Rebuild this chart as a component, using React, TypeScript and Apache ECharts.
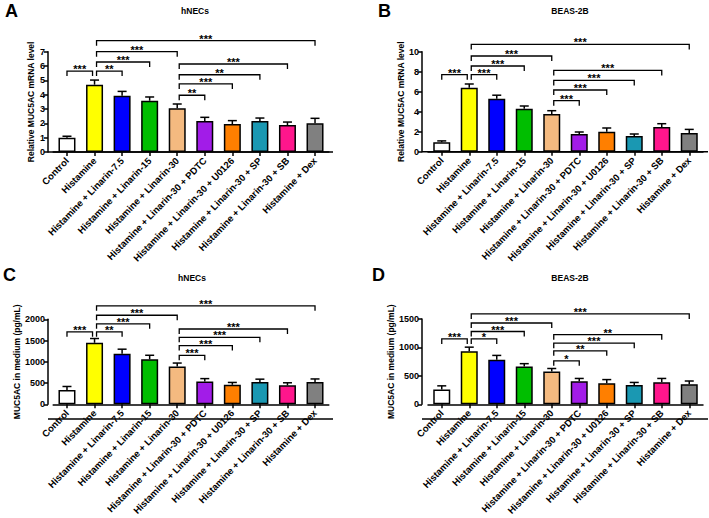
import React, { useEffect, useRef } from "react";
import * as echarts from "echarts";

// Treatment groups shared by all four panels
const categories = [
  "Control",
  "Histamine",
  "Histamine + Linarin-7.5",
  "Histamine + Linarin-15",
  "Histamine + Linarin-30",
  "Histamine + Linarin-30 + PDTC",
  "Histamine + Linarin-30 + U0126",
  "Histamine + Linarin-30 + SP",
  "Histamine + Linarin-30 + SB",
  "Histamine + Dex",
];

const barColors = [
  "#FFFFFF",
  "#FFFF00",
  "#0000FF",
  "#00BE00",
  "#F4BA80",
  "#A21CE8",
  "#FF7F00",
  "#1A98B2",
  "#FF168C",
  "#808080",
];

// A: MUC5AC mRNA, hNECs
const mrnaHnecMean = [1.0, 4.7, 3.93, 3.58, 3.05, 2.16, 1.95, 2.16, 1.88, 2.0];
const mrnaHnecSem = [0.1, 0.32, 0.3, 0.26, 0.3, 0.26, 0.24, 0.21, 0.21, 0.35];
// B: MUC5AC mRNA, BEAS-2B
const mrnaBeasMean = [0.95, 6.4, 5.3, 4.3, 3.77, 1.77, 2.0, 1.57, 2.47, 1.87];
const mrnaBeasSem = [0.13, 0.37, 0.35, 0.27, 0.33, 0.2, 0.37, 0.2, 0.33, 0.36];
// C: MUC5AC protein in medium (pg/mL), hNECs
const protHnecMean = [340, 1448, 1187, 1059, 891, 535, 460, 527, 447, 527];
const protHnecSem = [80, 100, 110, 95, 80, 70, 55, 65, 60, 70];
// D: MUC5AC protein in medium (pg/mL), BEAS-2B
const protBeasMean = [260, 935, 785, 665, 575, 405, 370, 340, 390, 355];
const protBeasSem = [65, 70, 75, 50, 55, 50, 65, 45, 65, 55];

// Significance brackets: [from group, to group, height in axis units, label]
type Bracket = [number, number, number, string];
const mrnaHnecSig: Bracket[] = [
  [0, 1, 5.65, "***"],
  [1, 2, 5.65, "**"],
  [1, 3, 6.28, "***"],
  [1, 4, 7.0, "***"],
  [1, 9, 7.77, "***"],
  [4, 5, 3.96, "**"],
  [4, 6, 4.75, "***"],
  [4, 7, 5.39, "**"],
  [4, 8, 6.14, "***"],
];
const mrnaBeasSig: Bracket[] = [
  [0, 1, 7.7, "***"],
  [1, 2, 7.7, "***"],
  [1, 3, 8.57, "***"],
  [1, 4, 9.57, "***"],
  [1, 9, 10.73, "***"],
  [4, 5, 5.1, "***"],
  [4, 6, 6.17, "***"],
  [4, 7, 7.13, "***"],
  [4, 8, 8.13, "***"],
];
const protHnecSig: Bracket[] = [
  [0, 1, 1705, "***"],
  [1, 2, 1705, "**"],
  [1, 3, 1893, "***"],
  [1, 4, 2095, "***"],
  [1, 9, 2317, "***"],
  [4, 5, 1153, "***"],
  [4, 6, 1382, "***"],
  [4, 7, 1577, "***"],
  [4, 8, 1772, "***"],
];
const protBeasSig: Bracket[] = [
  [0, 1, 1150, "***"],
  [1, 2, 1150, "*"],
  [1, 3, 1280, "***"],
  [1, 4, 1430, "***"],
  [1, 9, 1590, "***"],
  [4, 5, 765, "*"],
  [4, 6, 940, "**"],
  [4, 7, 1075, "***"],
  [4, 8, 1225, "**"],
];

const FONT = "Arial, 'Liberation Sans', Helvetica, sans-serif";

interface Panel {
  letter: string;
  title: string;
  yName: string;
  mean: number[];
  sem: number[];
  sig: Bracket[];
  yMax: number;
  yStep: number;
  left: number;
  top: number;
  width: number;
  height: number;
  axisX: number;
  axisEnd: number;
  nameGap: number;
  titleX: number;
  titleY: number;
  letterX: number;
  letterY: number;
}

const panels: Panel[] = [
  {
    letter: "A", title: "hNECs", yName: "Relative MUC5AC mRNA level",
    mean: mrnaHnecMean, sem: mrnaHnecSem, sig: mrnaHnecSig, yMax: 7, yStep: 1,
    left: 53.2, top: 51.7, width: 275.6, height: 100.3, axisX: 48, axisEnd: 333,
    nameGap: 13, titleX: 195, titleY: 11, letterX: 5, letterY: 11,
  },
  {
    letter: "B", title: "BEAS-2B", yName: "Relative MUC5AC mRNA level",
    mean: mrnaBeasMean, sem: mrnaBeasSem, sig: mrnaBeasSig, yMax: 10, yStep: 2,
    left: 428, top: 51.7, width: 275, height: 100, axisX: 422, axisEnd: 708,
    nameGap: 15, titleX: 570, titleY: 11, letterX: 378, letterY: 11,
  },
  {
    letter: "C", title: "hNECs", yName: "MUC5AC in medium (pg/mL)",
    mean: protHnecMean, sem: protHnecSem, sig: protHnecSig, yMax: 2000, yStep: 500,
    left: 53.2, top: 319.3, width: 275.6, height: 99.7, axisX: 48, axisEnd: 333,
    nameGap: 26, titleX: 192, titleY: 278, letterX: 3, letterY: 275,
  },
  {
    letter: "D", title: "BEAS-2B", yName: "MUC5AC in medium (pg/mL)",
    mean: protBeasMean, sem: protBeasSem, sig: protBeasSig, yMax: 1500, yStep: 500,
    left: 428, top: 319, width: 275, height: 100, axisX: 422, axisEnd: 708,
    nameGap: 26, titleX: 570, titleY: 278, letterX: 372, letterY: 275,
  },
];

function buildOption() {
  const grid: any[] = [];
  const xAxis: any[] = [];
  const yAxis: any[] = [];
  const series: any[] = [];
  const graphic: any[] = [];

  panels.forEach((p, k) => {
    grid.push({ left: p.left, top: p.top, width: p.width, height: p.height, containLabel: false });
    xAxis.push({
      type: "category",
      gridIndex: k,
      data: categories,
      boundaryGap: true,
      axisLine: { show: true, lineStyle: { color: "#000", width: 1.5 } },
      axisTick: { show: true, alignWithLabel: true, length: 4, lineStyle: { color: "#000", width: 1.5 } },
      axisLabel: {
        interval: 0,
        rotate: 46,
        margin: 7,
        color: "#000",
        fontFamily: FONT,
        fontWeight: "bold",
        fontSize: 9.5,
      },
    });
    yAxis.push({
      type: "value",
      gridIndex: k,
      min: 0,
      max: p.yMax,
      interval: p.yStep,
      offset: p.left - p.axisX,
      name: p.yName,
      nameLocation: "middle",
      nameGap: p.nameGap,
      nameTextStyle: { color: "#000", fontFamily: FONT, fontWeight: "bold", fontSize: 8.5 },
      splitLine: { show: false },
      axisLine: { show: true, lineStyle: { color: "#000", width: 1.5 } },
      axisTick: { show: true, length: 4, lineStyle: { color: "#000", width: 1.5 } },
      axisLabel: {
        color: "#000",
        fontFamily: FONT,
        fontWeight: "bold",
        fontSize: 9,
        margin: 3,
        formatter: (v: number) => String(v),
      },
    });

    series.push({
      type: "bar",
      xAxisIndex: k,
      yAxisIndex: k,
      barWidth: 17,
      data: p.mean.map((v, i) => ({
        value: v,
        itemStyle: { color: barColors[i], borderColor: "#000", borderWidth: 1.5 },
      })),
      z: 2,
    });

    // upper SEM whiskers
    series.push({
      type: "custom",
      xAxisIndex: k,
      yAxisIndex: k,
      clip: false,
      z: 3,
      data: p.mean.map((v, i) => [i, v, p.sem[i]]),
      renderItem: (_params: any, api: any) => {
        const i = api.value(0);
        const m = api.value(1);
        const e = api.value(2);
        const a = api.coord([i, m]);
        const b = api.coord([i, m + e]);
        return {
          type: "group",
          children: [
            { type: "line", shape: { x1: a[0], y1: a[1], x2: b[0], y2: b[1] }, style: { stroke: "#000", lineWidth: 1.5 } },
            { type: "line", shape: { x1: b[0] - 4.5, y1: b[1], x2: b[0] + 4.5, y2: b[1] }, style: { stroke: "#000", lineWidth: 1.5 } },
          ],
        };
      },
    });

    // significance brackets
    const sig = p.sig;
    series.push({
      type: "custom",
      xAxisIndex: k,
      yAxisIndex: k,
      clip: false,
      z: 4,
      data: sig.map((s) => [s[0], s[2], s[1]]),
      renderItem: (params: any, api: any) => {
        const s = sig[params.dataIndex];
        const a = api.coord([s[0], s[2]]);
        const b = api.coord([s[1], s[2]]);
        const x1 = a[0] + (s[0] === 0 ? 0 : 2);
        const x2 = b[0] - (s[1] === 1 ? 2 : 0);
        const y = a[1];
        return {
          type: "group",
          children: [
            {
              type: "polyline",
              shape: { points: [[x1, y + 5], [x1, y], [x2, y], [x2, y + 5]] },
              style: { stroke: "#000", lineWidth: 1.3, fill: "none" },
            },
            {
              type: "text",
              x: (x1 + x2) / 2,
              y: y - 2,
              style: {
                text: s[3],
                fill: "#000",
                font: `bold 11px ${FONT}`,
                align: "center",
                verticalAlign: "middle",
              },
            },
          ],
        };
      },
    });

    // x axis line runs from the y axis to the right end of the frame
    graphic.push({
      type: "line",
      shape: { x1: p.axisX, y1: p.top + p.height, x2: p.axisEnd, y2: p.top + p.height },
      style: { stroke: "#000", lineWidth: 1.5 },
      z: 10,
    });
    graphic.push({
      type: "text",
      x: p.titleX,
      y: p.titleY,
      style: { text: p.title, fill: "#000", font: `bold 8.5px ${FONT}`, align: "center", verticalAlign: "middle" },
    });
    graphic.push({
      type: "text",
      x: p.letterX,
      y: p.letterY,
      style: { text: p.letter, fill: "#000", font: `bold 18px ${FONT}`, align: "left", verticalAlign: "middle" },
    });
  });

  return {
    animation: false,
    backgroundColor: "#FFFFFF",
    grid,
    xAxis,
    yAxis,
    series,
    graphic,
  };
}

export default function App() {
  const ref = useRef<HTMLDivElement>(null);
  useEffect(() => {
    if (!ref.current) return;
    const chart = echarts.init(ref.current, undefined, { renderer: "svg" });
    chart.setOption(buildOption());
    return () => chart.dispose();
  }, []);
  return (
    <div
      ref={ref}
      style={{ position: "fixed", left: 0, top: 0, width: 709, height: 518, background: "#fff" }}
    />
  );
}
